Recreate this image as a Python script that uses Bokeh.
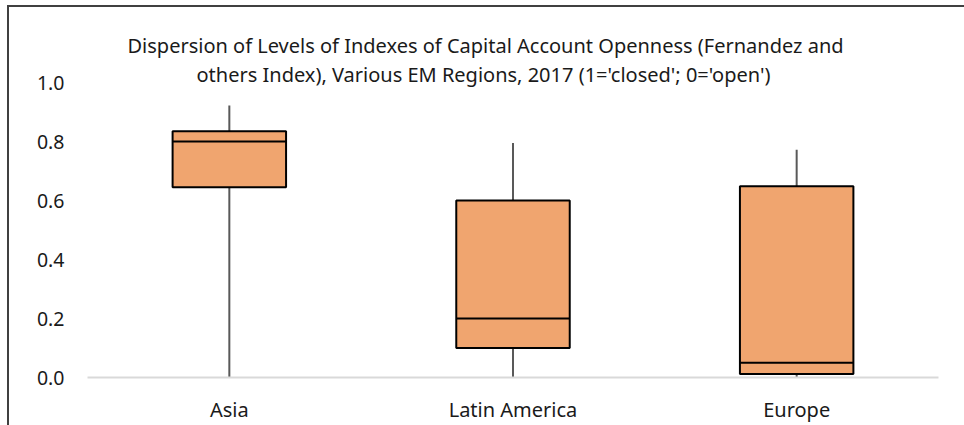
from bokeh.plotting import figure
from bokeh.models import FixedTicker, PrintfTickFormatter, Title, FactorRange, Range1d
from bokeh.embed import file_html
from bokeh.resources import INLINE

# ---- data ----
regions = ["Asia", "Latin America", "Europe"]
whisker_low = [0.0, 0.0, 0.0]
q1 = [0.645, 0.10, 0.012]
median = [0.80, 0.20, 0.05]
q3 = [0.835, 0.60, 0.648]
whisker_high = [0.922, 0.795, 0.772]
y_ticks = [0.0, 0.2, 0.4, 0.6, 0.8, 1.0]
title_lines = [
    "Dispersion of Levels of Indexes of Capital Account Openness (Fernandez and",
    "others Index), Various EM Regions, 2017 (1='closed'; 0='open')",
]

FONT = "Noto Sans"
TEXT = "#1a1a1a"
BOX = "#F0A56F"

p = figure(
    x_range=FactorRange(*regions, range_padding=0),
    y_range=Range1d(0, 1.0),
    frame_width=851, frame_height=295,
    min_border_left=78, min_border_right=26, min_border_top=75, min_border_bottom=44,
    output_backend="svg", toolbar_location=None, tools="",
)
p.styles = {"border-left": "2px solid #404040", "border-top": "2px solid #404040",
            "margin-left": "7px", "margin-top": "5px"}
p.outline_line_color = None
p.xgrid.grid_line_color = None
p.ygrid.grid_line_color = None

# whiskers (behind box)
p.segment(x0=regions, y0=whisker_low, x1=regions, y1=whisker_high,
          line_color="#595959", line_width=2)
# boxes
p.vbar(x=regions, width=0.4, bottom=q1, top=q3, fill_color=BOX,
       line_color="black", line_width=2)
# median
p.vbar(x=regions, width=0.4, bottom=median, top=median, fill_alpha=0,
       line_color="black", line_width=2)

# axes
p.yaxis.ticker = FixedTicker(ticks=y_ticks)
p.yaxis.formatter = PrintfTickFormatter(format="%.1f")
p.yaxis.axis_line_color = None
p.yaxis.major_tick_line_color = None
p.yaxis.minor_tick_line_color = None
p.yaxis.major_tick_out = 0
p.yaxis.major_label_standoff = 23
p.yaxis.major_label_text_font = FONT
p.yaxis.major_label_text_font_size = "19.5px"
p.yaxis.major_label_text_color = TEXT

p.xaxis.axis_line_color = "#d9d9d9"
p.xaxis.axis_line_width = 2
p.xaxis.major_tick_line_color = None
p.xaxis.minor_tick_line_color = None
p.xaxis.major_tick_out = 0
p.xaxis.major_label_standoff = 18
p.xaxis.major_label_text_font = FONT
p.xaxis.major_label_text_font_size = "20px"
p.xaxis.major_label_text_color = TEXT

# title: two lines, left-aligned with offsets so they sit centred on the chart area
for line, off, so in zip(reversed(title_lines), [109, 40], [-10, 10]):
    p.add_layout(Title(text=line, align="left", offset=off, text_font=FONT,
                       text_font_size="20px", text_font_style="normal",
                       text_color=TEXT, standoff=so), "above")

open("out.html", "w").write(file_html(p, INLINE))
